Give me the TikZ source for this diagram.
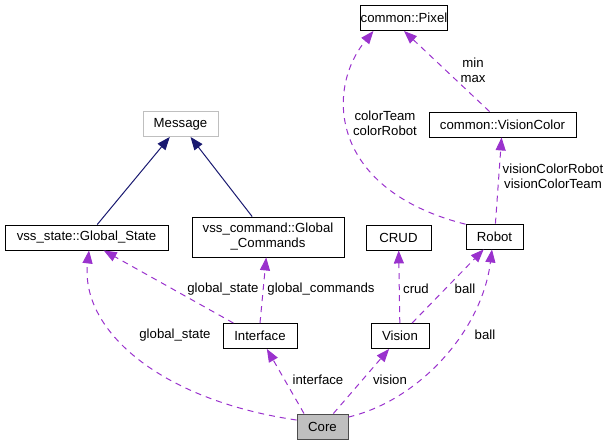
\documentclass[tikz,border=0pt]{standalone}
\usepackage{fontspec}
\setmainfont{Liberation Sans}
\usepackage{tikz}
\usetikzlibrary{arrows.meta, positioning}
\definecolor{dxpurple}{RGB}{154,50,205}
\definecolor{dxnavy}{RGB}{25,25,112}
\definecolor{dxgray}{RGB}{191,191,191}
\tikzset{
  %% ---- boxes ----
  cls/.style    = {rectangle, draw=black, line width=0.9pt, fill=white,
                   inner sep=0pt, minimum height=25pt, minimum width=#1,
                   align=center},
  cls/.default  = 60pt,
  extcls/.style = {cls=#1, draw=dxgray},
  maincls/.style= {cls=#1, fill=dxgray, draw=black!70},
  lbl/.style    = {inner sep=0pt, align=center},
  %% ---- arrows ----
  inh/.style    = {-{Triangle[length=13pt,width=10pt]}, line width=1pt, color=dxnavy},
  use/.style    = {-{Triangle[length=13pt,width=10pt]}, line width=1pt, color=dxpurple,
                   dash pattern=on 6pt off 5pt},
}
\begin{document}
\begin{tikzpicture}[x=1pt, y=-1pt,
  every node/.style = {font=\fontsize{13.2}{15}\selectfont}
]
\useasboundingbox (0,0) rectangle (611,445);
\node[extcls=75pt]  (msg)    at (180.5,124)  {Message};
\node[cls=163pt]    (gstate) at (86.5,237.5) {vss\_state::Global\_State};
\node[cls=152pt, minimum height=40pt] (gcmd) at (268,237) {vss\_command::Global\\\_Commands};
\node[cls=82pt]     (pixel)  at (404,18)     {common::Pixel};
\node[cls=147pt]    (vcolor) at (502.5,124.5){common::VisionColor};
\node[cls=65pt]     (crud)   at (398.5,237.5){CRUD};
\node[cls=57pt]     (robot)  at (494.5,236.5){Robot};
\node[cls=74pt]     (iface)  at (260,336)    {Interface};
\node[cls=58pt]     (vision) at (400,336)    {Vision};
\node[maincls=51pt] (core)   at (322.5,426.5){Core};
% edge labels
\node[lbl] (lgs1)   at (223,289) {global\_state};
\node[lbl] (lgc)    at (321,289) {global\_commands};
\node[lbl] (lcrud)  at (416,289) {crud};
\node[lbl] (lball1) at (465,289) {ball};
\node[lbl] (lgs2)   at (175,335) {global\_state};
\node[lbl] (lball2) at (485,335) {ball};
\node[lbl] (liface) at (318,380) {interface};
\node[lbl] (lvis)   at (390,380) {vision};
\node[lbl] (lcol)   at (385,123) {colorTeam\\colorRobot};
\node[lbl] (lmm)    at (473,70)  {min\\max};
\node[lbl] (lvc)    at (553,176) {visionColorRobot\\visionColorTeam};
% inheritance
\draw[inh] (gstate) -- (msg); \draw[inh] (gcmd) -- (msg);
% usage
\draw[use] (iface.154) -- (gstate.323); \draw[use] (iface.north) -- (gcmd.265);
\draw[use] (core.166) .. controls (160,400) and (80,330) .. (gstate.281);
\draw[use] (core.145) -- (iface.298); \draw[use] (core.50) -- (vision.230);
\draw[use] (vision) -- (crud); \draw[use] (vision.47) -- (robot.230);
\draw[use] (core.20) .. controls (420,400) and (482,330) .. (robot.259);
\draw[use] (robot.157) .. controls (330,190) and (325,90) .. (pixel.203);
\draw[use] (robot) -- (vcolor); \draw[use] (vcolor.135) -- (pixel.south);
\end{tikzpicture}
\end{document}
